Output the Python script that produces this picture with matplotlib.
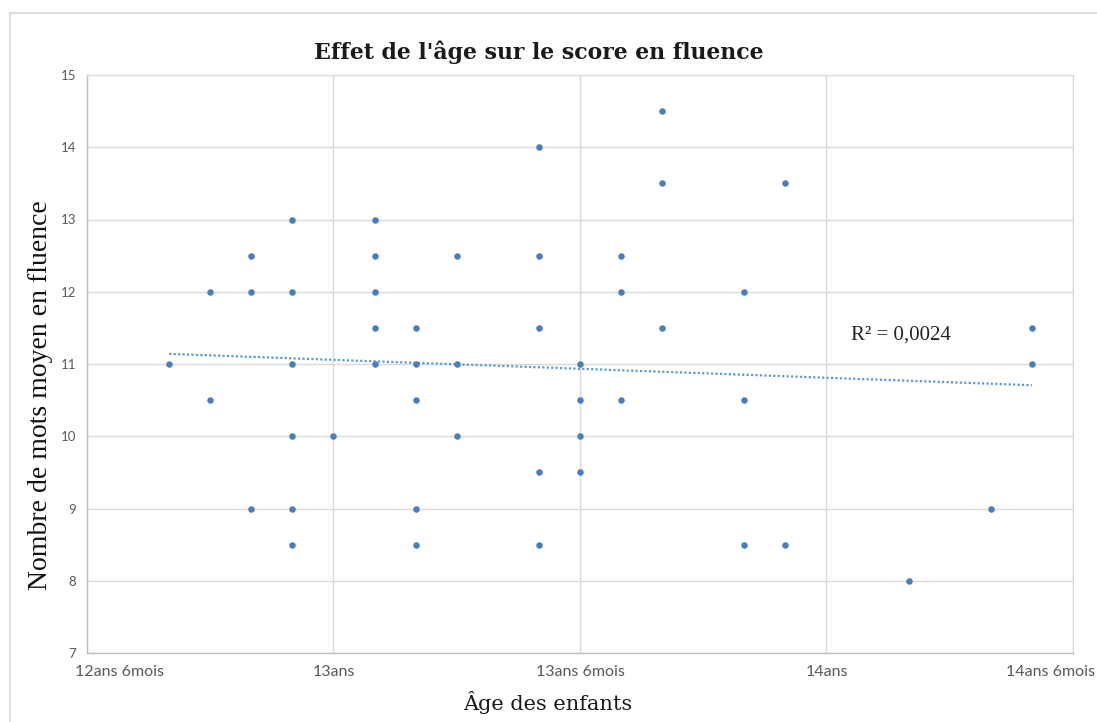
import numpy as np
import matplotlib
matplotlib.use("Agg")
import matplotlib.pyplot as plt
import matplotlib.transforms as mtransforms
from matplotlib.lines import Line2D

# ---- data (age in months, mean words in fluency) ----
age_months = [152,
              153, 153,
              154, 154, 154,
              155, 155, 155, 155, 155, 155,
              156,
              157, 157, 157, 157, 157,
              158, 158, 158, 158, 158,
              159, 159, 159,
              161, 161, 161, 161, 161,
              162, 162, 162, 162,
              163, 163, 163,
              164, 164, 164,
              166, 166, 166,
              167, 167,
              170,
              172,
              173, 173]
scores = [11,
          12, 10.5,
          12.5, 12, 9,
          13, 12, 11, 10, 9, 8.5,
          10,
          13, 12.5, 12, 11.5, 11,
          11.5, 11, 10.5, 9, 8.5,
          12.5, 11, 10,
          14, 12.5, 11.5, 9.5, 8.5,
          11, 10.5, 10, 9.5,
          12.5, 12, 10.5,
          14.5, 13.5, 11.5,
          12, 10.5, 8.5,
          13.5, 8.5,
          8,
          9,
          11.5, 11]
x_ticks = [150, 156, 162, 168, 174]
x_tick_labels = ["12ans 6mois", "13ans", "13ans 6mois", "14ans", "14ans 6mois"]
y_ticks = [7, 8, 9, 10, 11, 12, 13, 14, 15]
title = "Effet de l'âge sur le score en fluence"
x_label = "Âge des enfants"
y_label = "Nombre de mots moyen en fluence"
r2_text = "R² = 0,0024"

W, H = 1097, 722
fig = plt.figure(figsize=(W / 100, H / 100), dpi=100)
fig.patch.set_facecolor("white")

# outer chart frame (left and top visible)
fig.add_artist(Line2D([10 / W, 10 / W], [0, 1 - 13 / H], transform=fig.transFigure,
                      color="#d9d9d9", lw=1.2))
fig.add_artist(Line2D([10 / W, 1], [1 - 13 / H, 1 - 13 / H], transform=fig.transFigure,
                      color="#d9d9d9", lw=1.2))

left, right, top, bottom = 87, 1073, 75, 653
ax = fig.add_axes([left / W, 1 - bottom / H, (right - left) / W, (bottom - top) / H])

ax.set_xlim(150, 174)
ax.set_ylim(7, 15)
ax.set_xticks(x_ticks)
ax.set_xticklabels(x_tick_labels)
ax.set_yticks(y_ticks)
ax.grid(True, color="#d9d9d9", lw=1.0)
ax.set_axisbelow(True)
for s in ["top", "right"]:
    ax.spines[s].set_color("#d9d9d9")
for s in ["left", "bottom"]:
    ax.spines[s].set_color("#bfbfbf")
    ax.spines[s].set_linewidth(1.0)
ax.tick_params(length=0, colors="#595959")
ax.tick_params(axis="x", labelsize=11.5, pad=9)
ax.tick_params(axis="y", labelsize=9.5, pad=8)
for lab in ax.get_xticklabels() + ax.get_yticklabels():
    lab.set_fontfamily("Lato")
    lab.set_color("#595959")

# shift first x label to the right (Excel keeps it inside), last one left to stay visible
xlabs = ax.get_xticklabels()
first = xlabs[0]
first.set_horizontalalignment("left")
first.set_transform(first.get_transform() + mtransforms.ScaledTranslation(-12 / 100, 0, fig.dpi_scale_trans))
last = xlabs[-1]
last.set_horizontalalignment("right")
last.set_transform(last.get_transform() + mtransforms.ScaledTranslation(22 / 100, 0, fig.dpi_scale_trans))

ax.plot(age_months, scores, linestyle="none", marker="o", markersize=4.7,
        color="#4a7ebb", markeredgewidth=0, zorder=3)

# linear trendline
coef = np.polyfit(age_months, scores, 1)
xs = np.array([min(age_months), max(age_months)])
ax.plot(xs, np.polyval(coef, xs), linestyle=(0, (1, 1)), color="#5b9bd5", lw=1.6, zorder=2)

ax.text(169.8, 11.4, r2_text, fontsize=15, family="Liberation Serif", color="#222222",
        ha="center", va="center")

fig.text(539 / W, 1 - 52 / H, title, fontsize=15.8, family="DejaVu Serif", weight="bold",
         ha="center", va="center", color="#1a1a1a")
fig.text(548 / W, 1 - 703 / H, x_label, fontsize=15, family="DejaVu Serif",
         ha="center", va="center", color="#1a1a1a")
fig.text(41 / W, 1 - 395 / H, y_label, fontsize=20, family="Liberation Serif",
         ha="center", va="center", rotation=90, color="#111111")

fig.savefig("out.png", dpi=100, facecolor="white")
